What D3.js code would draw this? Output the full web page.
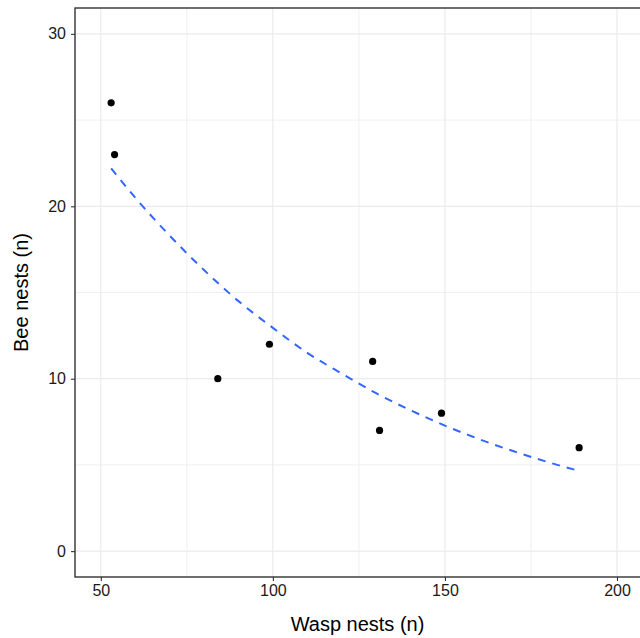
<!DOCTYPE html>
<html><head><meta charset="utf-8">
<script src="https://cdn.jsdelivr.net/npm/d3@7"></script>
<style>body{margin:0;background:#fff}svg{display:block}</style>
</head><body>
<svg id="c" width="640" height="638"></svg>
<script>
const waspNests = [53, 54, 84, 99, 129, 131, 149, 189];
const beeNests  = [26, 23, 10, 12, 11, 7, 8, 6];
const fitX = [53, 60, 70, 80, 90, 100, 110, 120, 130, 140, 150, 160, 170, 180, 189];
const fitY = [22.2, 20.5, 18.3, 16.3, 14.5, 12.95, 11.5, 10.3, 9.16, 8.17, 7.28, 6.49, 5.79, 5.16, 4.65];
const xTicks = [50, 100, 150, 200];
const xMinor = [75, 125, 175];
const yTicks = [0, 10, 20, 30];
const yMinor = [5, 15, 25];

const svg = d3.select("#c");
const L = 75, R = 642.8, T = 8, B = 577;
const x = d3.scaleLinear().domain([42.5, 207.5]).range([L, R]);
const y = d3.scaleLinear().domain([-1.5, 31.5]).range([B, T]);

const g = svg.append("g");
// minor grid
g.selectAll(".mx").data(xMinor).join("line")
  .attr("x1", d => x(d)).attr("x2", d => x(d)).attr("y1", T).attr("y2", B)
  .attr("stroke", "#ececec").attr("stroke-width", 0.8);
g.selectAll(".my").data(yMinor).join("line")
  .attr("y1", d => y(d)).attr("y2", d => y(d)).attr("x1", L).attr("x2", R)
  .attr("stroke", "#ececec").attr("stroke-width", 0.8);
// major grid
g.selectAll(".Mx").data(xTicks).join("line")
  .attr("x1", d => x(d)).attr("x2", d => x(d)).attr("y1", T).attr("y2", B)
  .attr("stroke", "#ebebeb").attr("stroke-width", 1.2);
g.selectAll(".My").data(yTicks).join("line")
  .attr("y1", d => y(d)).attr("y2", d => y(d)).attr("x1", L).attr("x2", R)
  .attr("stroke", "#ebebeb").attr("stroke-width", 1.2);

// fitted curve
const line = d3.line().x(d => x(d[0])).y(d => y(d[1])).curve(d3.curveMonotoneX);
svg.append("path").datum(fitX.map((v, i) => [v, fitY[i]]))
  .attr("d", line).attr("fill", "none").attr("stroke", "#3366FF")
  .attr("stroke-width", 2).attr("stroke-dasharray", "8,7");

// points
svg.selectAll(".pt").data(waspNests.map((v, i) => [v, beeNests[i]])).join("circle")
  .attr("cx", d => x(d[0])).attr("cy", d => y(d[1])).attr("r", 3.6).attr("fill", "#000");

// border
svg.append("rect").attr("x", L).attr("y", T).attr("width", R - L).attr("height", B - T)
  .attr("fill", "none").attr("stroke", "#333").attr("stroke-width", 1.4);

// axes
const xa = svg.append("g").attr("transform", `translate(0,${B})`)
  .call(d3.axisBottom(x).tickValues(xTicks).tickSize(4).tickPadding(4));
const ya = svg.append("g").attr("transform", `translate(${L},0)`)
  .call(d3.axisLeft(y).tickValues(yTicks).tickSize(4).tickPadding(5));
[xa, ya].forEach(a => {
  a.select(".domain").remove();
  a.selectAll(".tick line").attr("stroke", "#333").attr("stroke-width", 1.1);
  a.selectAll(".tick text").attr("fill", "#1a1a1a")
    .style("font-family", "'Liberation Sans', Arial, sans-serif").style("font-size", "16px");
});

svg.append("text").attr("x", (L + 640) / 2).attr("y", 631).attr("text-anchor", "middle")
  .style("font-family", "'Liberation Sans', Arial, sans-serif").style("font-size", "20px")
  .attr("fill", "#000").text("Wasp nests (n)");
svg.append("text").attr("transform", `translate(28,${(T + B) / 2}) rotate(-90)`)
  .attr("text-anchor", "middle")
  .style("font-family", "'Liberation Sans', Arial, sans-serif").style("font-size", "20px")
  .attr("fill", "#000").text("Bee nests (n)");
</script>
</body></html>
